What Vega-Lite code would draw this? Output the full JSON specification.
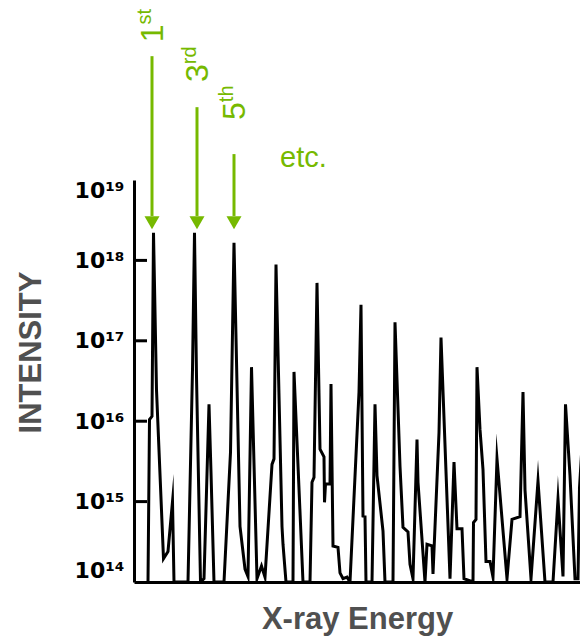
{
  "$schema": "https://vega.github.io/schema/vega-lite/v6.json",
  "width": 446,
  "height": 402,
  "autosize": {"type": "none"},
  "padding": {"left": 134, "top": 180, "right": 0, "bottom": 54},
  "background": "white",
  "config": {"view": {"stroke": null}},
  "datasets": {
    "spectrum": [
      {"e": 15, "v": 1e14}, {"e": 16.5, "v": 1.05e16}, {"e": 19, "v": 1.15e16}, {"e": 20.5, "v": 2.2e18},
      {"e": 23.5, "v": 2.45e16}, {"e": 30.5, "v": 1.95e14}, {"e": 35, "v": 2.4e14}, {"e": 39.5, "v": 1.0e15},
      {"e": 41, "v": 1e14}, {"e": 55, "v": 1e14}, {"e": 59.5, "v": 4.4e16}, {"e": 61.5, "v": 2.2e18},
      {"e": 63.5, "v": 3.6e16}, {"e": 67.5, "v": 1e14}, {"e": 71, "v": 1.1e14}, {"e": 76, "v": 1.62e16},
      {"e": 78, "v": 2.3e15}, {"e": 81, "v": 1e14}, {"e": 91, "v": 1e14}, {"e": 97.5, "v": 4.1e15},
      {"e": 101, "v": 1.66e18}, {"e": 107, "v": 4.9e14}, {"e": 112, "v": 1.45e14}, {"e": 115, "v": 1.17e14},
      {"e": 118.5, "v": 4.7e16}, {"e": 124, "v": 1.1e14}, {"e": 128.5, "v": 1.58e14}, {"e": 132, "v": 1.15e14},
      {"e": 139, "v": 2.9e15}, {"e": 141, "v": 3.4e15}, {"e": 143, "v": 8.9e17}, {"e": 149, "v": 4.9e14},
      {"e": 150, "v": 2.95e14}, {"e": 153, "v": 1e14}, {"e": 160, "v": 1e14}, {"e": 161, "v": 4.1e16},
      {"e": 170, "v": 1e14}, {"e": 177, "v": 1e14}, {"e": 179, "v": 1.74e15}, {"e": 181, "v": 2.0e15},
      {"e": 184, "v": 5.25e17}, {"e": 187, "v": 4.5e15}, {"e": 191, "v": 3.6e15}, {"e": 191.5, "v": 9.8e14},
      {"e": 192.5, "v": 1.66e15}, {"e": 197, "v": 1.66e15}, {"e": 198, "v": 2.9e16}, {"e": 200, "v": 2.8e14},
      {"e": 205, "v": 2.7e14}, {"e": 207, "v": 1.3e14}, {"e": 210, "v": 1.1e14}, {"e": 214, "v": 1.15e14},
      {"e": 217, "v": 1e14}, {"e": 226, "v": 2.3e16}, {"e": 228, "v": 2.8e17}, {"e": 230, "v": 6.6e14},
      {"e": 232, "v": 6.5e14}, {"e": 233, "v": 1e14}, {"e": 239, "v": 1e14}, {"e": 242, "v": 1.62e16},
      {"e": 244, "v": 2.1e15}, {"e": 250, "v": 4.3e14}, {"e": 252, "v": 1e14}, {"e": 260, "v": 1e14},
      {"e": 262, "v": 1.7e17}, {"e": 267, "v": 2.75e15}, {"e": 270, "v": 4.8e14}, {"e": 275, "v": 4.2e14},
      {"e": 277, "v": 1.66e14}, {"e": 280, "v": 1.1e14}, {"e": 284, "v": 5.9e15}, {"e": 285, "v": 1.74e15},
      {"e": 292, "v": 1e14}, {"e": 294, "v": 2.95e14}, {"e": 299, "v": 2.82e14}, {"e": 300, "v": 1.26e14},
      {"e": 306, "v": 7.2e15}, {"e": 308, "v": 1.1e17}, {"e": 317, "v": 1.1e14}, {"e": 321, "v": 3.1e15},
      {"e": 324, "v": 4.6e14}, {"e": 329, "v": 4.6e14}, {"e": 331, "v": 1.1e14}, {"e": 340, "v": 1e14},
      {"e": 340.5, "v": 5.5e14}, {"e": 343, "v": 6.0e14}, {"e": 344, "v": 4.7e16}, {"e": 347, "v": 7.9e15},
      {"e": 350, "v": 2.5e15}, {"e": 353, "v": 1.8e14}, {"e": 357, "v": 1.8e14}, {"e": 360, "v": 1.15e14},
      {"e": 364, "v": 3.4e15}, {"e": 374, "v": 1.1e14}, {"e": 379, "v": 6.0e14}, {"e": 387, "v": 6.5e14},
      {"e": 390, "v": 2.3e16}, {"e": 392, "v": 1.4e15}, {"e": 398, "v": 1.1e14}, {"e": 405, "v": 1.8e15},
      {"e": 412, "v": 1e14}, {"e": 420, "v": 1e14}, {"e": 425, "v": 1.07e15}, {"e": 430, "v": 1.17e14},
      {"e": 432.5, "v": 1.62e16}, {"e": 437, "v": 2.1e15}, {"e": 442, "v": 1.1e14}, {"e": 445, "v": 1.1e14},
      {"e": 446.5, "v": 1.5e15}, {"e": 452, "v": 2e16}
    ],
    "ticks": [{"v": 1e15}, {"v": 1e16}, {"v": 1e17}, {"v": 1e18}],
    "arrows": [
      {"e": 19, "top": 3.47e20, "end": 3.57e18, "tip": 2.94e18},
      {"e": 64, "top": 8.05e19, "end": 3.57e18, "tip": 2.94e18},
      {"e": 101, "top": 2.1e19, "end": 3.57e18, "tip": 2.94e18}
    ],
    "labels": [
      {"e": 19, "v": 8.6e20, "num": "1", "sup": "st"},
      {"e": 64, "v": 2.76e20, "num": "3", "sup": "rd"},
      {"e": 101, "v": 9.3e19, "num": "5", "sup": "th"}
    ],
    "etc": [{"e": 147, "v": 1.45e19, "t": "etc."}]
  },
  "layer": [
    {
      "data": {"name": "spectrum"},
      "mark": {"type": "line", "color": "black", "strokeWidth": 3, "clip": true, "strokeJoin": "miter", "strokeMiterLimit": 20},
      "encoding": {
        "x": {
          "field": "e", "type": "quantitative",
          "scale": {"domain": [1, 447], "nice": false, "zero": false},
          "axis": {
            "title": "X-ray Energy", "labels": false, "ticks": false, "grid": false,
            "domainColor": "black", "domainWidth": 3,
            "titleFont": "Liberation Sans", "titleFontWeight": "bold", "titleFontSize": 31,
            "titleColor": "#505050", "titlePadding": 22
          }
        },
        "y": {
          "field": "v", "type": "quantitative",
          "scale": {"type": "log", "domain": [1e14, 1e19], "nice": false},
          "axis": {
            "title": "INTENSITY",
            "values": [1e14, 1e15, 1e16, 1e17, 1e18, 1e19],
            "labelExpr": "'10' + ['¹⁴','¹⁵','¹⁶','¹⁷','¹⁸','¹⁹'][round(log(datum.value)/LN10)-14]",
            "labelFont": "DejaVu Sans", "labelFontWeight": "bold", "labelFontSize": 22, "labelColor": "black",
            "labelFlush": true, "labelPadding": 10,
            "ticks": false,
            "domainColor": "black", "domainWidth": 3, "grid": false,
            "titleFont": "Liberation Sans", "titleFontWeight": "bold", "titleFontSize": 31, "titleColor": "#505050",
            "titleAngle": 270, "titleX": -94, "titleY": 172, "titleAlign": "center", "titleBaseline": "alphabetic"
          }
        }
      }
    },
    {
      "data": {"name": "ticks"},
      "mark": {"type": "rule", "color": "black", "strokeWidth": 3},
      "encoding": {
        "x": {"datum": 1, "type": "quantitative"},
        "x2": {"datum": 14},
        "y": {"field": "v", "type": "quantitative"}
      }
    },
    {
      "mark": {"type": "rule", "color": "black", "strokeWidth": 3},
      "encoding": {"y": {"datum": 1e19, "type": "quantitative"}}
    },
    {
      "data": {"name": "arrows"},
      "mark": {"type": "rule", "color": "#76b900", "strokeWidth": 3, "clip": false},
      "encoding": {
        "x": {"field": "e", "type": "quantitative"},
        "y": {"field": "top", "type": "quantitative"},
        "y2": {"field": "end"}
      }
    },
    {
      "data": {"name": "arrows"},
      "mark": {"type": "point", "shape": "triangle-down", "filled": true, "size": 225, "opacity": 1, "color": "#76b900", "clip": false},
      "encoding": {
        "x": {"field": "e", "type": "quantitative"},
        "y": {"field": "tip", "type": "quantitative"}
      }
    },
    {
      "data": {"name": "labels"},
      "mark": {"type": "text", "angle": 270, "align": "right", "baseline": "alphabetic", "dy": 11, "font": "Liberation Sans", "fontSize": 32, "color": "#76b900", "clip": false},
      "encoding": {
        "x": {"field": "e", "type": "quantitative"},
        "y": {"field": "v", "type": "quantitative"},
        "text": {"field": "num"}
      }
    },
    {
      "data": {"name": "labels"},
      "mark": {"type": "text", "angle": 270, "align": "left", "baseline": "alphabetic", "dy": -1, "font": "Liberation Sans", "fontSize": 20, "color": "#76b900", "clip": false},
      "encoding": {
        "x": {"field": "e", "type": "quantitative"},
        "y": {"field": "v", "type": "quantitative"},
        "text": {"field": "sup"}
      }
    },
    {
      "data": {"name": "etc"},
      "mark": {"type": "text", "align": "left", "baseline": "alphabetic", "font": "Liberation Sans", "fontSize": 29, "color": "#76b900", "clip": false},
      "encoding": {
        "x": {"field": "e", "type": "quantitative"},
        "y": {"field": "v", "type": "quantitative"},
        "text": {"field": "t"}
      }
    }
  ]
}
